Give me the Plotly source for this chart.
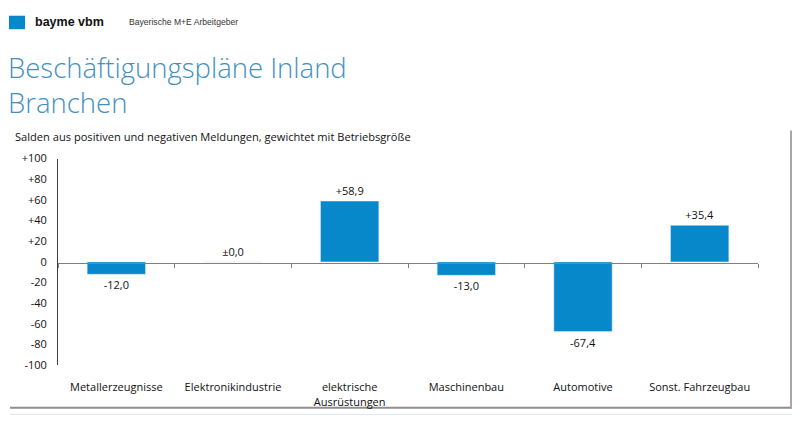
import plotly.graph_objects as go

categories = ["Metallerzeugnisse", "Elektronikindustrie", "elektrische<br>Ausrüstungen",
              "Maschinenbau", "Automotive", "Sonst. Fahrzeugbau"]
values = [-12.0, 0.0, 58.9, -13.0, -67.4, 35.4]
ytick_vals = [100, 80, 60, 40, 20, 0, -20, -40, -60, -80, -100]
ytick_text = ["+100", "+80", "+60", "+40", "+20", "0", "-20", "-40", "-60", "-80", "-100"]


def fmt(v):
    s = f"{abs(v):.1f}".replace(".", ",")
    if v > 0:
        return "+" + s
    if v < 0:
        return "-" + s
    return "±" + s


labels = [fmt(v) for v in values]

W, H = 800, 433
FONT = "Open Sans"
BAR = "#0788CB"
TITLE_C = "#4390BF"


def px(x):
    return x / W


def py(y):
    return 1 - y / H


fig = go.Figure()
fig.add_trace(go.Bar(
    x=categories, y=values, marker_color=BAR, width=0.5,
    text=labels, textposition="outside", cliponaxis=False,
    textfont=dict(family=FONT, size=11, color="#111"),
    hoverinfo="skip",
))
# invisible trace for zero-line axis (carries boundary ticks)
fig.add_trace(go.Scatter(x=categories, y=[0] * len(categories), xaxis="x2",
                         mode="markers", marker=dict(opacity=0), hoverinfo="skip"))

fig.update_layout(
    width=W, height=H, margin=dict(l=0, r=0, t=0, b=0),
    paper_bgcolor="white", plot_bgcolor="rgba(0,0,0,0)", showlegend=False,
    bargap=0.5,
    xaxis=dict(domain=[px(58), px(758)], type="category", categoryarray=categories,
               range=[-0.5, 5.5], showline=False, showgrid=False, zeroline=False,
               ticks="outside", ticklen=12, tickcolor="rgba(0,0,0,0)",
               tickfont=dict(family=FONT, size=11, color="#111"), fixedrange=True),
    xaxis2=dict(domain=[px(58), px(758)], type="category", categoryarray=categories,
                range=[-0.5, 5.5], anchor="free", position=py(264), overlaying="x",
                showline=True, linecolor="#808080", linewidth=1,
                ticks="outside", tickson="boundaries", ticklen=4, tickcolor="#808080",
                showticklabels=False, showgrid=False, zeroline=False),
    yaxis=dict(domain=[py(370), py(156)], range=[-100, 100],
               tickvals=ytick_vals, ticktext=ytick_text,
               showline=True, linecolor="#404040", linewidth=1,
               showgrid=False, zeroline=False, ticks="outside", ticklen=8,
               tickcolor="rgba(0,0,0,0)",
               tickfont=dict(family=FONT, size=11, color="#111")),
)

ann = [
    dict(text="bayme vbm", x=px(33), y=py(15), font=dict(family="Liberation Sans", size=12.5, color="#111", weight=600)),
    dict(text="Bayerische M+E Arbeitgeber", x=px(127), y=py(15), font=dict(family="Liberation Sans", size=8.6, color="#333")),
    dict(text="Beschäftigungspläne Inland", x=px(6), y=py(62), font=dict(family=FONT, size=27.5, color=TITLE_C, weight=300)),
    dict(text="Branchen", x=px(6), y=py(98), font=dict(family=FONT, size=27.5, color=TITLE_C, weight=300)),
    dict(text="Salden aus positiven und negativen Meldungen, gewichtet mit Betriebsgröße", x=px(13), y=py(133),
         font=dict(family=FONT, size=11.1, color="#111")),
]
for a in ann:
    a.update(xref="paper", yref="paper", xanchor="left", yanchor="middle", showarrow=False)
fig.update_layout(annotations=ann)

shapes = [
    dict(type="rect", x0=px(9), x1=px(25), y0=py(22), y1=py(8), fillcolor=BAR, line=dict(width=0)),
    dict(type="line", x0=px(10), x1=px(792), y0=py(414), y1=py(414), line=dict(color="#8f8f8f", width=2)),
    dict(type="line", x0=px(791), x1=px(791), y0=py(127), y1=py(414), line=dict(color="#a8a8a8", width=2)),
    dict(type="line", x0=px(10), x1=px(792), y0=py(421), y1=py(421), line=dict(color="#d8e8f3", width=1)),
]
for s in shapes:
    s.update(xref="paper", yref="paper", layer="below")
fig.update_layout(shapes=shapes)

fig.write_html("out.html")
